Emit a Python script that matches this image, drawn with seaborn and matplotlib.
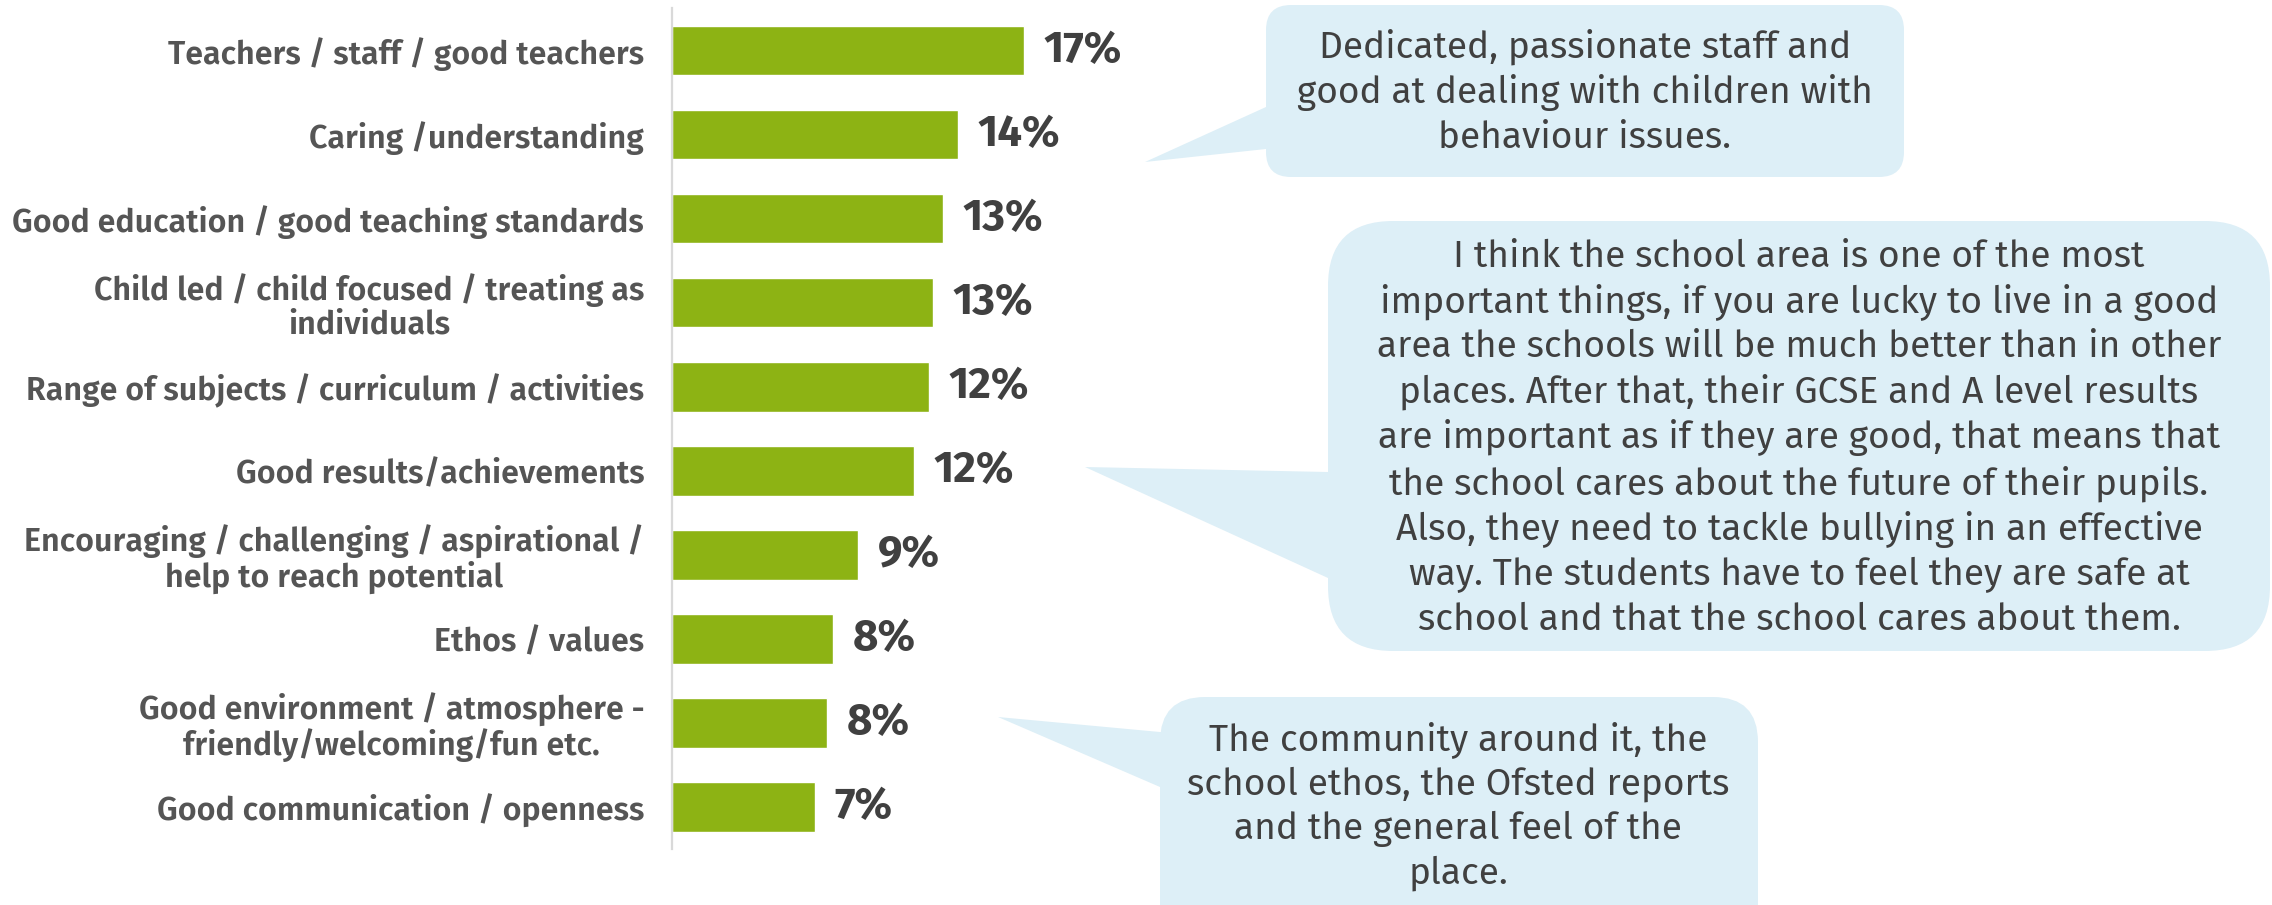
import matplotlib
matplotlib.use("Agg")
import matplotlib.pyplot as plt
import seaborn as sns
import pandas as pd
from matplotlib.patches import FancyBboxPatch, Polygon

# ---------------- data ----------------
categories = [
    "Teachers / staff / good teachers",
    "Caring /understanding",
    "Good education / good teaching standards",
    "Child led / child focused / treating as\nindividuals",
    "Range of subjects / curriculum / activities",
    "Good results/achievements",
    "Encouraging / challenging / aspirational /\nhelp to reach potential",
    "Ethos / values",
    "Good environment / atmosphere -\nfriendly/welcoming/fun etc.",
    "Good communication / openness",
]
values = [17.0, 13.8, 13.1, 12.6, 12.4, 11.7, 9.0, 7.8, 7.5, 6.9]
value_labels = ["17%", "14%", "13%", "13%", "12%", "12%", "9%", "8%", "8%", "7%"]

quote_1 = ("Dedicated, passionate staff and\n"
           "good at dealing with children with\n"
           "behaviour issues.")
quote_2 = ("I think the school area is one of the most\n"
           "important things, if you are lucky to live in a good\n"
           "area the schools will be much better than in other\n"
           "places. After that, their GCSE and A level results\n"
           "are important as if they are good, that means that\n"
           "the school cares about the future of their pupils.\n"
           "Also, they need to tackle bullying in an effective\n"
           "way. The students have to feel they are safe at\n"
           "school and that the school cares about them.")
quote_3 = ("The community around it, the\n"
           "school ethos, the Ofsted reports\n"
           "and the general feel of the\n"
           "place.")

# ---------------- style ----------------
sns.set_style("white")
FAM = ["Fira Sans", "DejaVu Sans"]
plt.rcParams["font.family"] = FAM

BAR = "#8DB314"
BUBBLE = "#DDEFF7"
TXT = "#404040"
LBL = "#555555"

W, H = 2272, 905
fig = plt.figure(figsize=(W / 100, H / 100), dpi=100)
fig.patch.set_facecolor("white")

ax = fig.add_axes([672 / W, 1 - 849 / H, (1086 - 672) / W, (849 - 8.5) / H])
ax.set_facecolor("none")
df = pd.DataFrame({"cat": categories, "val": values})
sns.barplot(data=df, y="cat", x="val", orient="h", color=BAR, saturation=1,
            width=0.59, ax=ax)
ax.set_xlim(0, 20)
ax.set_ylim(9.5, -0.5)
ax.set_xlabel("")
ax.set_ylabel("")
ax.set_xticks([])
for s in ["top", "right", "bottom"]:
    ax.spines[s].set_visible(False)
ax.spines["left"].set_color("#D9D9D9")
ax.spines["left"].set_linewidth(1.6)
ax.tick_params(axis="y", length=0, pad=20)
for t in ax.get_yticklabels():
    t.set_fontsize(23.2)
    t.set_fontweight(600)
    t.set_color(LBL)
    t.set_multialignment("center")
    t.set_linespacing(1.06)

ax.bar_label(ax.containers[0], labels=value_labels, padding=14,
             fontsize=31.5, fontweight="bold", color=TXT)

# ---------------- callouts ----------------
ov = fig.add_axes([0, 0, 1, 1], zorder=-1)
ov.set_xlim(0, W)
ov.set_ylim(H, 0)
ov.axis("off")


def add_bubble(x0, y0, x1, y1, r, tail, text, cx, cy, fs=26.7):
    box = FancyBboxPatch((x0, y0), x1 - x0, y1 - y0,
                         boxstyle=f"round,pad=0,rounding_size={r}",
                         facecolor=BUBBLE, edgecolor="none")
    ov.add_patch(box)
    tip, b1, b2 = tail
    poly = Polygon([tip, b1, (b1[0] + 30, b1[1]), (b2[0] + 30, b2[1]), b2],
                   closed=True, facecolor=BUBBLE, edgecolor="none")
    ov.add_patch(poly)
    ov.text(cx, cy, text, ha="center", va="center", multialignment="center",
            fontsize=fs, color=TXT, linespacing=1.31)


add_bubble(1266, 5, 1904, 177, 25,
           ((1145, 162), (1266, 107), (1266, 149)), quote_1, 1585, 92)
add_bubble(1328, 221, 2270, 651, 65,
           ((1085, 467), (1328, 472), (1328, 578)), quote_2, 1799, 438)
add_bubble(1160, 697, 1758, 990, 45,
           ((998, 717), (1160, 732), (1160, 787)), quote_3, 1458, 806)

fig.savefig("out.png", dpi=100)
